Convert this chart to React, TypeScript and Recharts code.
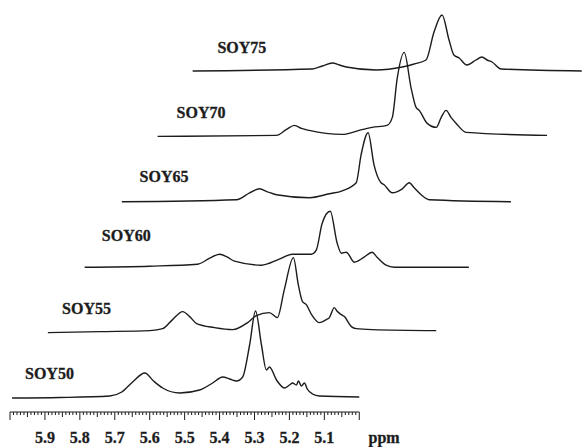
import React from 'react';
import { ComposedChart, Line, XAxis, YAxis, ReferenceLine, ReferenceDot } from 'recharts';

// Spectrum names
const SERIES_NAMES = ['SOY50', 'SOY55', 'SOY60', 'SOY65', 'SOY70', 'SOY75'];

// Each spectrum: chemical shift (ppm, own scale) and intensity (arbitrary units)
const PPM_50 = [5.994, 5.857, 5.714, 5.680, 5.649, 5.614, 5.589, 5.563, 5.514, 5.457, 5.420, 5.391, 5.371, 5.351, 5.334, 5.314, 5.297, 5.280, 5.266, 5.257, 5.237, 5.214, 5.200, 5.191, 5.180, 5.174, 5.166, 5.157, 5.149, 5.134, 5.114, 5.0];
const INT_50 = [0, 0.5, 2, 6, 16, 25, 17, 10, 5, 8, 15, 21, 19, 17, 21, 53, 87, 53, 28, 31, 18, 10, 13, 15, 13, 17, 12, 15, 9, 4, 2, 1];

const PPM_55 = [5.995, 5.846, 5.703, 5.666, 5.638, 5.609, 5.589, 5.569, 5.518, 5.466, 5.423, 5.398, 5.361, 5.338, 5.318, 5.292, 5.278, 5.266, 5.255, 5.240, 5.218, 5.198, 5.189, 5.175, 5.166, 5.155, 5.146, 5.126, 5.112, 5.066, 4.883];
const INT_55 = [0, 1, 2, 4, 13, 21, 16, 9, 5, 3, 10, 17, 20, 15, 43, 75, 48, 31, 28, 18, 10, 13, 15, 25, 21, 18, 16, 6, 4, 3, 2];

const PPM_60 = [5.993, 5.807, 5.670, 5.635, 5.607, 5.584, 5.564, 5.487, 5.436, 5.399, 5.344, 5.330, 5.313, 5.290, 5.270, 5.258, 5.244, 5.221, 5.193, 5.170, 5.156, 5.130, 5.107, 4.893];
const INT_60 = [0, 1, 3, 9, 13, 10, 6, 2, 8, 13, 13, 17, 44, 56, 24, 14, 15, 5, 10, 15, 10, 2, 0, 0];

const PPM_65 = [5.990, 5.662, 5.624, 5.596, 5.573, 5.547, 5.453, 5.396, 5.359, 5.319, 5.305, 5.285, 5.268, 5.248, 5.239, 5.216, 5.187, 5.167, 5.153, 5.133, 5.110, 4.876];
const INT_65 = [0, 2, 9, 13, 10, 7, 4, 8, 11, 19, 47, 69, 37, 19, 17, 9, 13, 19, 14, 7, 2, 0];

const PPM_70 = [5.991, 5.651, 5.622, 5.599, 5.579, 5.557, 5.462, 5.414, 5.377, 5.334, 5.319, 5.305, 5.285, 5.265, 5.251, 5.242, 5.219, 5.193, 5.179, 5.165, 5.151, 5.136, 5.108, 4.876];
const INT_70 = [0, 1, 7, 11, 8, 6, 2, 6, 9, 11, 19, 58, 84, 48, 29, 26, 13, 9, 19, 26, 19, 13, 4, 1];

const PPM_75 = [5.994, 5.651, 5.623, 5.594, 5.574, 5.554, 5.469, 5.394, 5.360, 5.326, 5.303, 5.280, 5.260, 5.246, 5.231, 5.209, 5.183, 5.166, 5.151, 5.137, 5.111, 4.880];
const INT_75 = [0, 2, 5, 8, 6, 4, 1, 4, 7, 11, 39, 56, 31, 16, 13, 6, 11, 14, 11, 9, 2, 0];

// Axis tick labels
const TICK_LABELS = ['5.9', '5.8', '5.7', '5.6', '5.5', '5.4', '5.3', '5.2', '5.1'];
const AXIS_START = 6.0;
const AXIS_END = 5.0;
const AXIS_UNIT = 'ppm';

// Layout constants (stacking offsets, label anchors in chart coordinates)
const STEP_PPM = 0.1034;
const STEP_INT = 65.4;
const BASE_INT = 14;
const X_DOMAIN: [number, number] = [4.3566, 6.0];
const Y_DOMAIN: [number, number] = [0, 402];
const LABEL_X = [5.957, 5.851, 5.737, 5.629, 5.523, 5.406];
const LABEL_Y = [39, 104, 177, 236, 300, 365];
const UNIT_POS = { x: 4.929, y: -31 };

const PPMS = [PPM_50, PPM_55, PPM_60, PPM_65, PPM_70, PPM_75];
const INTS = [INT_50, INT_55, INT_60, INT_65, INT_70, INT_75];

const seriesData = PPMS.map((ppm, k) =>
  ppm.map((p, i) => ({ x: +(p - k * STEP_PPM).toFixed(4), y: INTS[k][i] + BASE_INT + k * STEP_INT }))
);

// ticks every 0.01 ppm along the ruler
const ticks: number[] = [];
for (let i = 0; i <= 100; i++) ticks.push(Math.round((AXIS_END + i * 0.01) * 100) / 100);

const FONT = '"Liberation Serif", "Times New Roman", serif';
const INK = '#1c1c1c';

const RulerTick = (props: any) => {
  const { x, y, payload } = props;
  const v = Math.round(payload.value * 100);
  const major = v % 10 === 0;
  const mid = v % 5 === 0;
  const len = major ? 8 : mid ? 5 : 3;
  const label = major ? (payload.value).toFixed(1) : null;
  const show = label && TICK_LABELS.includes(label);
  return (
    <g>
      <line x1={x} x2={x} y1={y} y2={y + len} stroke={INK} strokeWidth={1} />
      {show && (
        <text x={x} y={y + 31} textAnchor="middle" fontFamily={FONT} fontWeight="bold" fontSize={16} fill={INK} stroke={INK} strokeWidth={0.3}>
          {label}
        </text>
      )}
    </g>
  );
};

const makeLabel = (text: string, anchor: 'start' | 'middle', dy: string) => (props: any) => {
  const vb = props.viewBox || {};
  const x = (vb.x || 0) + (vb.width || 0) / 2;
  const y = (vb.y || 0) + (vb.height || 0) / 2;
  return (
    <text x={x} y={y} dy={dy} textAnchor={anchor} fontFamily={FONT} fontWeight="bold" fontSize={16} fill={INK} stroke={INK} strokeWidth={0.3}>
      {text}
    </text>
  );
};

export default function App() {
  return (
    <div style={{ position: 'absolute', left: 0, top: 0, background: '#fff' }}>
      <ComposedChart width={584} height={447} margin={{ top: 10, right: 0, left: 10, bottom: 0 }}>
        <XAxis
          dataKey="x"
          type="number"
          domain={X_DOMAIN}
          reversed
          allowDataOverflow
          ticks={ticks}
          interval={0}
          axisLine={false}
          tickLine={false}
          tickSize={0}
          tickMargin={0}
          height={35}
          tick={<RulerTick />}
        />
        <YAxis hide type="number" domain={Y_DOMAIN} allowDataOverflow />
        <ReferenceLine
          segment={[{ x: AXIS_START, y: 0 }, { x: AXIS_END, y: 0 }]}
          stroke={INK}
          strokeWidth={1.2}
          ifOverflow="visible"
        />
        {seriesData.map((d, k) => (
          <Line
            key={SERIES_NAMES[k]}
            data={d}
            dataKey="y"
            type="monotone"
            dot={false}
            stroke={INK}
            strokeWidth={1.4}
            isAnimationActive={false}
          />
        ))}
        {SERIES_NAMES.map((n, k) => (
          <ReferenceDot
            key={'lbl' + n}
            x={LABEL_X[k]}
            y={LABEL_Y[k]}
            r={0}
            fill="none"
            stroke="none"
            ifOverflow="visible"
            label={makeLabel(n, 'start', '0.35em')}
          />
        ))}
        <ReferenceDot
          x={UNIT_POS.x}
          y={UNIT_POS.y}
          r={0}
          fill="none"
          stroke="none"
          ifOverflow="visible"
          label={makeLabel(AXIS_UNIT, 'middle', '0')}
        />
      </ComposedChart>
    </div>
  );
}
